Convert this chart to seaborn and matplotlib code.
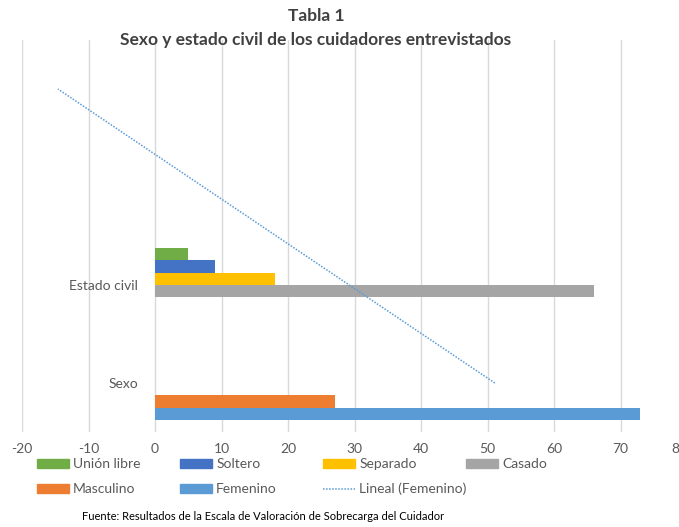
import numpy as np
import pandas as pd
import matplotlib
matplotlib.use("Agg")
import matplotlib.pyplot as plt
import seaborn as sns
from matplotlib.patches import Patch
from matplotlib.lines import Line2D

# ----------------------------------------------------
# Datos
# ----------------------------------------------------
categorias = ["Estado civil", "Sexo"]
series = ["Unión libre", "Soltero", "Separado", "Casado", "Masculino", "Femenino"]
colores = ["#70AD47", "#4472C4", "#FFC000", "#A5A5A5", "#ED7D31", "#5B9BD5"]

estado_civil_series = ["Unión libre", "Soltero", "Separado", "Casado"]
estado_civil_valores = [5, 9, 18, 66]
sexo_series = ["Masculino", "Femenino"]
sexo_valores = [27, 73]

# Femenino en las 4 filas de la hoja (Sexo, Estado civil, dos vacías) -> tendencia lineal
femenino_por_fila = [73, 0, 0, 0]

x_ticks = list(range(-20, 81, 10))

df = pd.DataFrame({
    "categoria": ["Estado civil"] * 4 + ["Sexo"] * 2,
    "serie": estado_civil_series + sexo_series,
    "valor": estado_civil_valores + sexo_valores,
})

# ----------------------------------------------------
# Figura
# ----------------------------------------------------
sns.set_style("white")
plt.rcParams["font.family"] = ["Lato", "DejaVu Sans"]
plt.rcParams["axes.unicode_minus"] = False
gris_texto = "#595959"

fig = plt.figure(figsize=(6.79, 5.27), dpi=100)
ax = fig.add_axes([22 / 679, 1 - 432 / 527, 665 / 679, 392 / 527])

sns.barplot(data=df, y="categoria", x="valor", hue="serie", order=categorias,
            hue_order=series, palette=colores, orient="h", width=0.76,
            saturation=1, linewidth=0, legend=False, ax=ax)

# línea de tendencia (Lineal (Femenino)) sobre las posiciones de categoría
filas = np.arange(1, len(femenino_por_fila) + 1)
pend, inter = np.polyfit(filas, femenino_por_fila, 1)
y_pos = 2 - filas  # fila 1 = Sexo (y=1), fila 4 arriba (y=-2)
ax.plot(pend * filas + inter, y_pos, color="#5B9BD5", lw=1.1, ls=(0, (1, 1)))

ax.set_xlim(-20, 80)
ax.set_ylim(1.5, -2.5)
ax.set_xticks(x_ticks)
ax.xaxis.grid(True, color="#D9D9D9", lw=1)
ax.set_axisbelow(True)
for s in ax.spines.values():
    s.set_visible(False)
ax.spines["left"].set_position(("data", 0))
ax.tick_params(axis="both", length=0, labelsize=10, labelcolor=gris_texto)
ax.tick_params(axis="y", pad=12)
ax.tick_params(axis="x", pad=8)
ax.set_xlabel("")
ax.set_ylabel("")
# el último rótulo (80) queda cortado por el borde, como en el original
ax.get_xticklabels()[-1].set_horizontalalignment("right")

# títulos
fig.text(316 / 679, 1 - 16 / 527, "Tabla 1", ha="center", va="center",
         fontsize=12.5, fontweight="bold", color="#404040")
fig.text(316 / 679, 1 - 40 / 527, "Sexo y estado civil de los cuidadores entrevistados",
         ha="center", va="center", fontsize=12.5, fontweight="bold", color="#404040")

# leyenda (posiciones tipo Excel)
entradas = [
    (Patch(color=colores[0]), "Unión libre", 37, 464),
    (Patch(color=colores[1]), "Soltero", 180, 464),
    (Patch(color=colores[2]), "Separado", 323, 464),
    (Patch(color=colores[3]), "Casado", 466, 464),
    (Patch(color=colores[4]), "Masculino", 37, 489),
    (Patch(color=colores[5]), "Femenino", 180, 489),
    (Line2D([], [], color="#5B9BD5", lw=1.1, ls=(0, (1, 1))), "Lineal (Femenino)", 323, 489),
]
for h, lab, px, py in entradas:
    fig.legend(handles=[h], labels=[lab], loc="center left",
               bbox_to_anchor=(px / 679, 1 - py / 527), frameon=False,
               borderpad=0, borderaxespad=0, handlelength=2.3, handleheight=0.6,
               handletextpad=0.3, fontsize=10, labelcolor=gris_texto)

fig.text(82 / 679, 1 - 517 / 527,
         "Fuente: Resultados de la Escala de Valoración de Sobrecarga del Cuidador",
         ha="left", va="center", fontsize=8, color="black")

plt.savefig("out.png", dpi=100)
plt.close()
